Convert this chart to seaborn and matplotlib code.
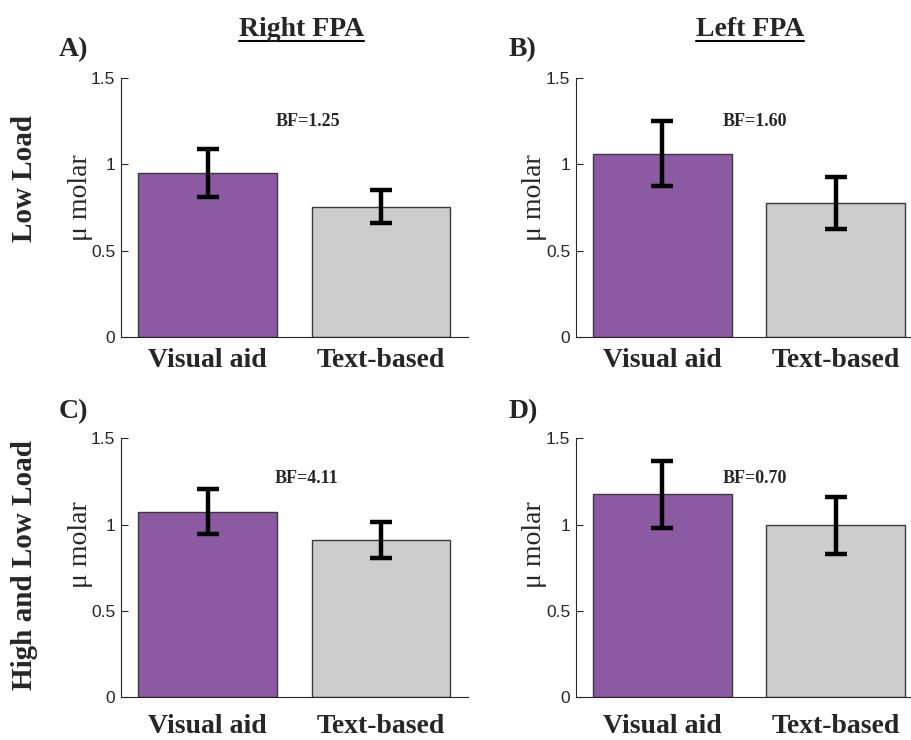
import matplotlib
matplotlib.use("Agg")
import matplotlib.pyplot as plt
import seaborn as sns
import pandas as pd
from matplotlib.lines import Line2D

# values (mean and half-length of the error bar)
conditions = ["Visual aid", "Text-based"]
right_low_mean = [0.95, 0.755]
right_low_err = [0.138, 0.094]
left_low_mean = [1.062, 0.776]
left_low_err = [0.19, 0.15]
right_all_mean = [1.075, 0.909]
right_all_err = [0.131, 0.105]
left_all_mean = [1.177, 0.996]
left_all_err = [0.194, 0.164]
bf_values = ["1.25", "1.60", "4.11", "0.70"]
panel_letters = ["A)", "B)", "C)", "D)"]
column_titles = ["Right FPA", "Left FPA"]
row_titles = ["Low Load", "High and Low Load"]
yticks = [0, 0.5, 1, 1.5]
ytick_labels = ["0", "0.5", "1", "1.5"]

purple = "#8b5aa3"
grey = "#cccccc"
axis_col = "#262626"

sns.set_style("ticks")
plt.rcParams["font.family"] = ["Liberation Serif", "DejaVu Serif"]

fig = plt.figure(figsize=(9.11, 7.4), dpi=100)

W, H = 911.0, 740.0


def draw_panel(ax, means, errs, bf, bf_xy, label_y, xpad):
    df = pd.DataFrame({"condition": conditions, "value": means})
    sns.barplot(data=df, x="condition", y="value", hue="condition",
                palette=[purple, grey], saturation=1, edgecolor="#3a3a3a",
                linewidth=1, width=0.8, legend=False, ax=ax)
    # the error bars on top of the bars
    ax.errorbar(range(len(means)), means, yerr=errs, fmt="none",
                ecolor="black", elinewidth=3.2, capsize=8, capthick=3.2,
                zorder=3)
    ax.set_xlim(-0.5, 1.5)
    ax.set_ylim(0, 1.5)
    ax.set_yticks(yticks)
    ax.set_yticklabels(ytick_labels, family="Liberation Sans",
                       fontsize=12.5, color=axis_col)
    ax.set_xticks(range(len(conditions)))
    ax.set_xticklabels(conditions, fontsize=20, fontweight="bold")
    ax.tick_params(axis="y", direction="in", length=5, width=0.8,
                   color=axis_col, pad=4)
    ax.tick_params(axis="x", length=0, pad=xpad)
    ax.set_xlabel("")
    ax.set_ylabel("\u03bc molar", fontsize=20)
    ax.yaxis.set_label_coords(-0.082, label_y)
    sns.despine(ax=ax)
    for s in ["left", "bottom"]:
        ax.spines[s].set_color(axis_col)
        ax.spines[s].set_linewidth(0.8)
    ax.text(bf_xy[0], bf_xy[1], "BF=" + bf, ha="center", va="center",
            fontsize=13, fontweight="bold")


ax_a = fig.add_axes([121 / W, 1 - 337 / H, 346.5 / W, 259 / H])
ax_b = fig.add_axes([575.7 / W, 1 - 337 / H, 346.5 / W, 259 / H])
ax_c = fig.add_axes([121 / W, 1 - 697.3 / H, 346.5 / W, 259 / H])
ax_d = fig.add_axes([575.7 / W, 1 - 697.3 / H, 346.5 / W, 259 / H])

draw_panel(ax_a, right_low_mean, right_low_err, bf_values[0], (0.577, 1.25), 0.54, 8)
draw_panel(ax_b, left_low_mean, left_low_err, bf_values[1], (0.535, 1.25), 0.537, 8)
draw_panel(ax_c, right_all_mean, right_all_err, bf_values[2], (0.57, 1.268), 0.59, 12)
draw_panel(ax_d, left_all_mean, left_all_err, bf_values[3], (0.535, 1.27), 0.59, 12)

# panel letters
for letter, (px, py) in zip(panel_letters, [(59, 50), (509, 50), (59, 412), (509, 412)]):
    fig.text(px / W, 1 - py / H, letter, ha="left", va="center",
             fontsize=20, fontweight="bold")

# row labels
for label, py in zip(row_titles, [178, 565]):
    fig.text(25 / W, 1 - py / H, label, rotation=90, ha="center", va="center",
             fontsize=21, fontweight="bold")

# underlined column titles
titles = []
for title, px in zip(column_titles, [301.5, 750]):
    titles.append(fig.text(px / W, 1 - 36 / H, title, ha="center", va="baseline",
                           fontsize=20, fontweight="bold"))

fig.canvas.draw()
renderer = fig.canvas.get_renderer()
for t in titles:
    bb = t.get_window_extent(renderer)
    y_line = 1 - 41 / H
    fig.add_artist(Line2D([bb.x0 / W, bb.x1 / W], [y_line, y_line],
                          transform=fig.transFigure, color="black", lw=1.5))

fig.savefig("out.png", dpi=100)
